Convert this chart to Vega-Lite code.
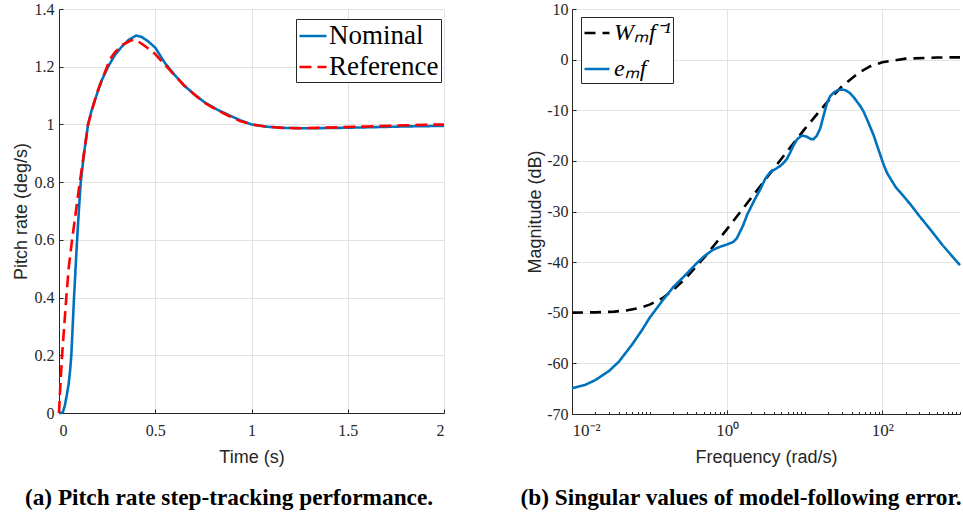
{
  "$schema": "https://vega.github.io/schema/vega-lite/v6.json",
  "background": "white",
  "padding": {"left": 12, "top": 1, "right": 0, "bottom": 0},
  "bounds": "flush",
  "spacing": 128,
  "config": {
    "view": {"stroke": null},
    "axis": {
      "labelFont": "Liberation Serif", "labelFontSize": 16, "labelColor": "#262626",
      "titleFont": "Liberation Sans", "titleFontSize": 18, "titleColor": "#262626", "titleFontWeight": "normal",
      "domainColor": "#262626", "domainWidth": 1, "tickColor": "#262626", "tickSize": -4,
      "gridColor": "#e3e3e3", "gridWidth": 1
    },
    "title": {"font": "Liberation Serif", "fontSize": 23.3, "fontWeight": "bold", "color": "black", "orient": "bottom", "anchor": "middle", "offset": 21},
    "legend": {
      "orient": "none", "title": null, "labelFont": "Liberation Serif", "labelFontSize": 27, "labelColor": "black",
      "symbolType": "stroke", "symbolSize": 729, "symbolStrokeWidth": 2.5, "strokeColor": "#262626", "fillColor": "white",
      "padding": 2, "rowPadding": 3, "labelOffset": 1
    }
  },
  "datasets": {
    "step": [
      {"t":0,"v":0,"s":"Nominal"},{"t":0.01,"v":0,"s":"Nominal"},{"t":0.02,"v":0.003,"s":"Nominal"},{"t":0.03,"v":0.025,"s":"Nominal"},{"t":0.04,"v":0.06,"s":"Nominal"},{"t":0.05,"v":0.1,"s":"Nominal"},{"t":0.058,"v":0.15,"s":"Nominal"},{"t":0.064,"v":0.2,"s":"Nominal"},{"t":0.071,"v":0.3,"s":"Nominal"},{"t":0.078,"v":0.4,"s":"Nominal"},{"t":0.086,"v":0.5,"s":"Nominal"},{"t":0.094,"v":0.6,"s":"Nominal"},{"t":0.103,"v":0.7,"s":"Nominal"},{"t":0.113,"v":0.8,"s":"Nominal"},{"t":0.13,"v":0.9,"s":"Nominal"},{"t":0.151,"v":1.0,"s":"Nominal"},{"t":0.17,"v":1.05,"s":"Nominal"},{"t":0.186,"v":1.083,"s":"Nominal"},{"t":0.22,"v":1.15,"s":"Nominal"},{"t":0.255,"v":1.2,"s":"Nominal"},{"t":0.29,"v":1.24,"s":"Nominal"},{"t":0.324,"v":1.268,"s":"Nominal"},{"t":0.36,"v":1.292,"s":"Nominal"},{"t":0.4,"v":1.308,"s":"Nominal"},{"t":0.43,"v":1.303,"s":"Nominal"},{"t":0.463,"v":1.288,"s":"Nominal"},{"t":0.5,"v":1.266,"s":"Nominal"},{"t":0.55,"v":1.213,"s":"Nominal"},{"t":0.6,"v":1.172,"s":"Nominal"},{"t":0.65,"v":1.135,"s":"Nominal"},{"t":0.71,"v":1.1,"s":"Nominal"},{"t":0.76,"v":1.075,"s":"Nominal"},{"t":0.82,"v":1.052,"s":"Nominal"},{"t":0.88,"v":1.033,"s":"Nominal"},{"t":0.94,"v":1.015,"s":"Nominal"},{"t":1.0,"v":1.0,"s":"Nominal"},{"t":1.08,"v":0.992,"s":"Nominal"},{"t":1.165,"v":0.988,"s":"Nominal"},{"t":1.25,"v":0.987,"s":"Nominal"},{"t":1.34,"v":0.987,"s":"Nominal"},{"t":1.45,"v":0.988,"s":"Nominal"},{"t":1.6,"v":0.99,"s":"Nominal"},{"t":1.8,"v":0.993,"s":"Nominal"},{"t":2.0,"v":0.995,"s":"Nominal"},
      {"t":0,"v":0,"s":"Reference"},{"t":0.005,"v":0.07,"s":"Reference"},{"t":0.01,"v":0.13,"s":"Reference"},{"t":0.016,"v":0.2,"s":"Reference"},{"t":0.027,"v":0.3,"s":"Reference"},{"t":0.038,"v":0.4,"s":"Reference"},{"t":0.05,"v":0.5,"s":"Reference"},{"t":0.068,"v":0.6,"s":"Reference"},{"t":0.088,"v":0.7,"s":"Reference"},{"t":0.108,"v":0.8,"s":"Reference"},{"t":0.13,"v":0.9,"s":"Reference"},{"t":0.151,"v":1.0,"s":"Reference"},{"t":0.18,"v":1.07,"s":"Reference"},{"t":0.203,"v":1.12,"s":"Reference"},{"t":0.238,"v":1.18,"s":"Reference"},{"t":0.264,"v":1.225,"s":"Reference"},{"t":0.29,"v":1.25,"s":"Reference"},{"t":0.33,"v":1.276,"s":"Reference"},{"t":0.37,"v":1.29,"s":"Reference"},{"t":0.39,"v":1.293,"s":"Reference"},{"t":0.411,"v":1.288,"s":"Reference"},{"t":0.45,"v":1.27,"s":"Reference"},{"t":0.498,"v":1.245,"s":"Reference"},{"t":0.55,"v":1.207,"s":"Reference"},{"t":0.584,"v":1.182,"s":"Reference"},{"t":0.65,"v":1.135,"s":"Reference"},{"t":0.71,"v":1.1,"s":"Reference"},{"t":0.76,"v":1.074,"s":"Reference"},{"t":0.82,"v":1.05,"s":"Reference"},{"t":0.88,"v":1.03,"s":"Reference"},{"t":0.94,"v":1.012,"s":"Reference"},{"t":1.0,"v":1.0,"s":"Reference"},{"t":1.08,"v":0.992,"s":"Reference"},{"t":1.165,"v":0.988,"s":"Reference"},{"t":1.25,"v":0.987,"s":"Reference"},{"t":1.34,"v":0.988,"s":"Reference"},{"t":1.45,"v":0.99,"s":"Reference"},{"t":1.6,"v":0.993,"s":"Reference"},{"t":1.8,"v":0.997,"s":"Reference"},{"t":2.0,"v":1.0,"s":"Reference"}
    ],
    "freq": [
      {"f":0.01,"m":-49.98,"s":"W"},{"f":0.02,"m":-49.92,"s":"W"},{"f":0.035,"m":-49.77,"s":"W"},{"f":0.05,"m":-49.54,"s":"W"},{"f":0.075,"m":-49.03,"s":"W"},{"f":0.1,"m":-48.4,"s":"W"},{"f":0.15,"m":-47.0,"s":"W"},{"f":0.2,"m":-45.56,"s":"W"},{"f":0.3,"m":-43.0,"s":"W"},{"f":0.5,"m":-39.17,"s":"W"},{"f":0.7,"m":-36.43,"s":"W"},{"f":1,"m":-33.43,"s":"W"},{"f":2,"m":-27.49,"s":"W"},{"f":3,"m":-24.0,"s":"W"},{"f":5,"m":-19.58,"s":"W"},{"f":10,"m":-13.69,"s":"W"},{"f":20,"m":-8.15,"s":"W"},{"f":30,"m":-5.32,"s":"W"},{"f":50,"m":-2.55,"s":"W"},{"f":70,"m":-1.3,"s":"W"},{"f":100,"m":-0.51,"s":"W"},{"f":200,"m":0.2,"s":"W"},{"f":500,"m":0.42,"s":"W"},{"f":1000,"m":0.45,"s":"W"},
      {"f":0.01,"m":-64.9,"s":"e"},{"f":0.015,"m":-64.2,"s":"e"},{"f":0.02,"m":-63.3,"s":"e"},{"f":0.03,"m":-61.5,"s":"e"},{"f":0.04,"m":-59.7,"s":"e"},{"f":0.06,"m":-56.2,"s":"e"},{"f":0.08,"m":-53.4,"s":"e"},{"f":0.1,"m":-51.0,"s":"e"},{"f":0.15,"m":-47.4,"s":"e"},{"f":0.2,"m":-45.0,"s":"e"},{"f":0.3,"m":-42.3,"s":"e"},{"f":0.4,"m":-40.3,"s":"e"},{"f":0.5,"m":-38.9,"s":"e"},{"f":0.65,"m":-37.6,"s":"e"},{"f":0.8,"m":-37.0,"s":"e"},{"f":1.0,"m":-36.5,"s":"e"},{"f":1.2,"m":-36.0,"s":"e"},{"f":1.33,"m":-35.3,"s":"e"},{"f":1.6,"m":-32.8,"s":"e"},{"f":1.8,"m":-30.7,"s":"e"},{"f":2.2,"m":-28.0,"s":"e"},{"f":2.67,"m":-25.6,"s":"e"},{"f":3.1,"m":-23.5,"s":"e"},{"f":3.59,"m":-22.2,"s":"e"},{"f":4.3,"m":-21.5,"s":"e"},{"f":4.83,"m":-21.0,"s":"e"},{"f":5.4,"m":-20.3,"s":"e"},{"f":5.89,"m":-19.6,"s":"e"},{"f":6.5,"m":-18.3,"s":"e"},{"f":7.18,"m":-16.9,"s":"e"},{"f":8.0,"m":-15.7,"s":"e"},{"f":9.2,"m":-15.0,"s":"e"},{"f":10.5,"m":-15.2,"s":"e"},{"f":12,"m":-15.7,"s":"e"},{"f":13,"m":-15.7,"s":"e"},{"f":14.3,"m":-15.0,"s":"e"},{"f":15.8,"m":-13.6,"s":"e"},{"f":17.5,"m":-11.0,"s":"e"},{"f":19.3,"m":-8.6,"s":"e"},{"f":21.3,"m":-7.2,"s":"e"},{"f":24,"m":-6.4,"s":"e"},{"f":27,"m":-6.0,"s":"e"},{"f":30.2,"m":-5.9,"s":"e"},{"f":34,"m":-6.1,"s":"e"},{"f":38,"m":-6.6,"s":"e"},{"f":42.6,"m":-7.4,"s":"e"},{"f":52,"m":-9.2,"s":"e"},{"f":57.4,"m":-10.3,"s":"e"},{"f":65,"m":-12.2,"s":"e"},{"f":77.3,"m":-15.0,"s":"e"},{"f":90,"m":-18.0,"s":"e"},{"f":104,"m":-20.8,"s":"e"},{"f":115,"m":-22.4,"s":"e"},{"f":127,"m":-23.5,"s":"e"},{"f":150,"m":-25.3,"s":"e"},{"f":188,"m":-27.0,"s":"e"},{"f":230,"m":-28.6,"s":"e"},{"f":300,"m":-30.9,"s":"e"},{"f":417,"m":-33.6,"s":"e"},{"f":600,"m":-36.7,"s":"e"},{"f":832,"m":-39.2,"s":"e"},{"f":1000,"m":-40.6,"s":"e"}
    ]
  },
  "resolve": {"scale": {"color": "independent", "strokeDash": "independent"}, "legend": {"color": "independent", "strokeDash": "independent"}},
  "hconcat": [
    {
      "width": 385, "height": 404,
      "title": {"text": "(a) Pitch rate step-tracking performance.", "dx": -22.5},
      "data": {"name": "step"},
      "encoding": {
        "x": {"field": "t", "type": "quantitative", "scale": {"domain": [0, 2], "nice": false},
              "axis": {"title": "Time (s)", "values": [0, 0.5, 1, 1.5, 2], "labelExpr": "'' + datum.value", "labelPadding": 13, "titlePadding": 10}},
        "y": {"field": "v", "type": "quantitative", "scale": {"domain": [0, 1.4], "nice": false},
              "axis": {"title": "Pitch rate (deg/s)", "values": [0, 0.2, 0.4, 0.6, 0.8, 1, 1.2, 1.4], "labelExpr": "'' + datum.value", "labelPadding": 9, "titlePadding": 4}},
        "color": {"field": "s", "type": "nominal", "scale": {"domain": ["Nominal", "Reference"], "range": ["#0072BD", "#FF0000"]},
                  "legend": {"legendX": 237, "legendY": 10}},
        "strokeDash": {"field": "s", "type": "nominal", "scale": {"domain": ["Nominal", "Reference"], "range": [[1, 0], [12, 6]]},
                       "legend": {"legendX": 237, "legendY": 10}}
      },
      "layer": [
        {"transform": [{"filter": "datum.s == 'Nominal'"}], "mark": {"type": "line", "strokeWidth": 2.6}},
        {"transform": [{"filter": "datum.s == 'Reference'"}], "mark": {"type": "line", "strokeWidth": 2.6}}
      ]
    },
    {
      "width": 388, "height": 405,
      "title": {"text": "(b) Singular values of model-following error.", "dx": -25},
      "data": {"name": "freq"},
      "resolve": {"axis": {"x": "independent"}},
      "layer": [
        {
          "transform": [{"filter": "datum.s == 'W'"}],
          "mark": {"type": "line", "strokeWidth": 2.6},
          "encoding": {
            "x": {"field": "f", "type": "quantitative", "scale": {"type": "log", "domain": [0.01, 1000], "nice": false},
                  "axis": {"orient": "bottom", "title": "Frequency (rad/s)", "values": [0.01, 1, 100], "labelFontSize": 17,
                           "labelExpr": "datum.value == 0.01 ? '10⁻²' : (datum.value == 1 ? '10⁰' : '10²')", "labelPadding": 12, "titlePadding": 10}},
            "y": {"field": "m", "type": "quantitative", "scale": {"domain": [-70, 10], "nice": false},
                  "axis": {"title": "Magnitude (dB)", "values": [-70, -60, -50, -40, -30, -20, -10, 0, 10], "labelExpr": "'' + datum.value", "labelPadding": 8, "titlePadding": 2}},
            "color": {"field": "s", "type": "nominal", "scale": {"domain": ["W", "e"], "range": ["black", "#0072BD"]},
                      "legend": {"legendX": 9, "legendY": 8, "labelFontStyle": "italic", "labelFontSize": 24, "rowPadding": 10, "symbolSize": 625, "labelOffset": 3, "labelExpr": "datum.value == 'W' ? 'Wₘf⁻¹' : 'eₘf'"}},
            "strokeDash": {"field": "s", "type": "nominal", "scale": {"domain": ["W", "e"], "range": [[11, 7], [1, 0]]},
                           "legend": {"legendX": 9, "legendY": 8, "labelFontStyle": "italic", "labelFontSize": 24, "rowPadding": 10, "symbolSize": 625, "labelOffset": 3, "labelExpr": "datum.value == 'W' ? 'Wₘf⁻¹' : 'eₘf'"}}
          }
        },
        {
          "transform": [{"filter": "datum.s == 'e'"}],
          "mark": {"type": "line", "strokeWidth": 2.6},
          "encoding": {
            "x": {"field": "f", "type": "quantitative", "scale": {"type": "log", "domain": [0.01, 1000], "nice": false},
                  "axis": {"orient": "bottom", "title": null, "labels": false, "domain": false, "tickSize": -2.5,
                           "values": [0.02,0.03,0.04,0.05,0.06,0.07,0.08,0.09,0.1,0.2,0.3,0.4,0.5,0.6,0.7,0.8,0.9,2,3,4,5,6,7,8,9,10,20,30,40,50,60,70,80,90,200,300,400,500,600,700,800,900,1000],
                           "gridDash": [1, 2], "gridColor": "#cdcdcd"}},
            "y": {"field": "m", "type": "quantitative", "scale": {"domain": [-70, 10], "nice": false},
                  "axis": {"title": "Magnitude (dB)", "values": [-70, -60, -50, -40, -30, -20, -10, 0, 10], "labelExpr": "'' + datum.value", "labelPadding": 8, "titlePadding": 2}},
            "color": {"field": "s", "type": "nominal", "scale": {"domain": ["W", "e"], "range": ["black", "#0072BD"]},
                      "legend": {"legendX": 9, "legendY": 8, "labelFontStyle": "italic", "labelFontSize": 24, "rowPadding": 10, "symbolSize": 625, "labelOffset": 3, "labelExpr": "datum.value == 'W' ? 'Wₘf⁻¹' : 'eₘf'"}},
            "strokeDash": {"field": "s", "type": "nominal", "scale": {"domain": ["W", "e"], "range": [[11, 7], [1, 0]]},
                           "legend": {"legendX": 9, "legendY": 8, "labelFontStyle": "italic", "labelFontSize": 24, "rowPadding": 10, "symbolSize": 625, "labelOffset": 3, "labelExpr": "datum.value == 'W' ? 'Wₘf⁻¹' : 'eₘf'"}}
          }
        }
      ]
    }
  ]
}
